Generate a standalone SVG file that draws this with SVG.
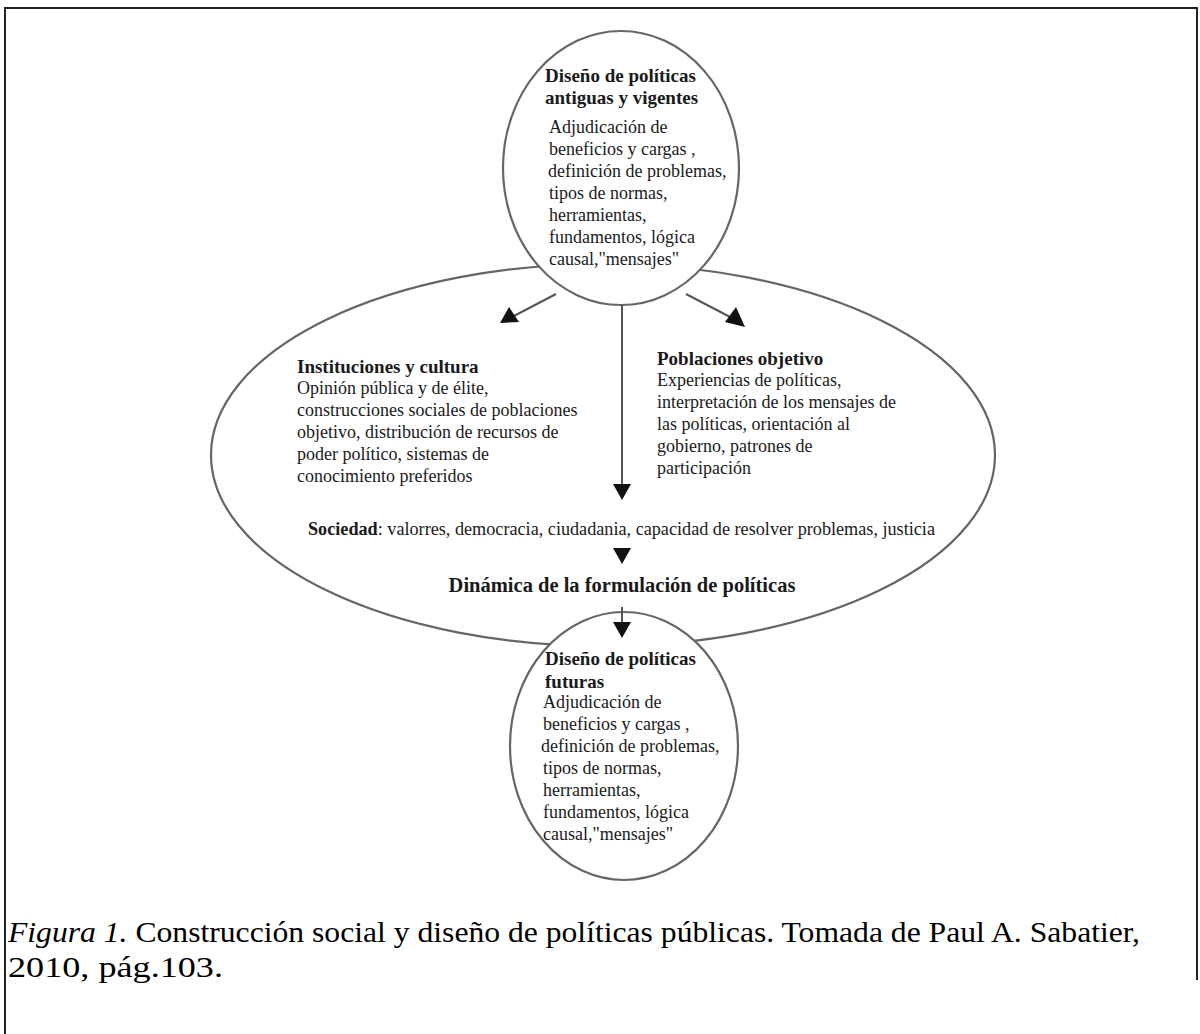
<svg xmlns="http://www.w3.org/2000/svg" width="1200" height="1034" viewBox="0 0 1200 1034">
<defs>
<style>
.t{font-family:"Liberation Serif","DejaVu Serif",serif;font-size:18px;fill:#1a1a1a}
.b{font-weight:bold;font-size:19px}
.dn{font-weight:bold;font-size:20.5px}
.cap{font-family:"Liberation Serif",serif;font-size:30px;fill:#000}
.ell{fill:none;stroke:#666;stroke-width:2.2}
.cir{fill:#fff;stroke:#666;stroke-width:2.2}
.con{stroke:#555;stroke-width:2;fill:none}
.hd{fill:#111}
</style>
</defs>
<rect width="1200" height="1034" fill="#fff"/>
<g id="frame" fill="none" stroke="#222" stroke-width="2">
<path d="M5,1034 L5,8 L1197,8 L1197,980"/>
</g>
<g id="sociedad-ellipse">
<ellipse class="ell" cx="603" cy="455" rx="392" ry="191"/>
</g>
<g id="top-node">
<ellipse class="cir" cx="621" cy="168" rx="118" ry="137"/>
<text class="t b" x="545" y="82">Diseño de políticas</text>
<text class="t b" x="545" y="104">antiguas y vigentes</text>
<text class="t" x="549" y="133">Adjudicación de</text>
<text class="t" x="549" y="155">beneficios y cargas ,</text>
<text class="t" x="548" y="177">definición de problemas,</text>
<text class="t" x="549" y="199">tipos de normas,</text>
<text class="t" x="549" y="221">herramientas,</text>
<text class="t" x="549" y="243">fundamentos, lógica</text>
<text class="t" x="549" y="265">causal,"mensajes"</text>
</g>
<g id="bottom-node">
<ellipse class="cir" cx="624" cy="746" rx="114" ry="134"/>
<text class="t b" x="545" y="665">Diseño de políticas</text>
<text class="t b" x="545" y="688">futuras</text>
<text class="t" x="543" y="708">Adjudicación de</text>
<text class="t" x="543" y="730">beneficios y cargas ,</text>
<text class="t" x="541" y="752">definición de problemas,</text>
<text class="t" x="543" y="774">tipos de normas,</text>
<text class="t" x="543" y="796">herramientas,</text>
<text class="t" x="543" y="818">fundamentos, lógica</text>
<text class="t" x="543" y="840">causal,"mensajes"</text>
</g>
<g id="instituciones">
<text class="t b" x="297" y="373">Instituciones y cultura</text>
<text class="t" x="297" y="394">Opinión pública y de élite,</text>
<text class="t" x="297" y="416">construcciones sociales de poblaciones</text>
<text class="t" x="297" y="438">objetivo, distribución de recursos de</text>
<text class="t" x="297" y="460">poder político, sistemas de</text>
<text class="t" x="297" y="482">conocimiento preferidos</text>
</g>
<g id="poblaciones">
<text class="t b" x="657" y="365">Poblaciones objetivo</text>
<text class="t" x="657" y="386">Experiencias de políticas,</text>
<text class="t" x="657" y="408">interpretación de los mensajes de</text>
<text class="t" x="657" y="430">las políticas, orientación al</text>
<text class="t" x="657" y="452">gobierno, patrones de</text>
<text class="t" x="657" y="474">participación</text>
</g>
<g id="sociedad">
<text class="t" x="308" y="535" textLength="627" lengthAdjust="spacingAndGlyphs"><tspan font-weight="bold">Sociedad</tspan>: valorres, democracia, ciudadania, capacidad de resolver problemas, justicia</text>
</g>
<g id="dinamica">
<text class="t dn" x="622" y="592" text-anchor="middle">Dinámica de la formulación de políticas</text>
</g>
<g id="connectors">
<line class="con" x1="556" y1="294" x2="512" y2="317"/>
<path class="hd" d="M500,323 L509,307 L519,322 Z"/>
<line class="con" x1="686" y1="294" x2="732" y2="318"/>
<path class="hd" d="M745,327 L725,322 L736,307 Z"/>
<line class="con" x1="622" y1="305" x2="622" y2="486"/>
<path class="hd" d="M613,484 L631,484 L622,500 Z"/>
<path class="hd" d="M613,548 L631,548 L622,564 Z"/>
<line class="con" x1="622" y1="607" x2="622" y2="625"/>
<path class="hd" d="M613,622 L631,622 L622,638 Z"/>
</g>
<g id="caption">
<text class="cap" x="8" y="942" textLength="1132" lengthAdjust="spacingAndGlyphs"><tspan font-style="italic">Figura 1.</tspan> Construcción social y diseño de políticas públicas. Tomada de Paul A. Sabatier,</text>
<text class="cap" x="8" y="977" textLength="215" lengthAdjust="spacingAndGlyphs">2010, pág.103.</text>
</g>
</svg>
